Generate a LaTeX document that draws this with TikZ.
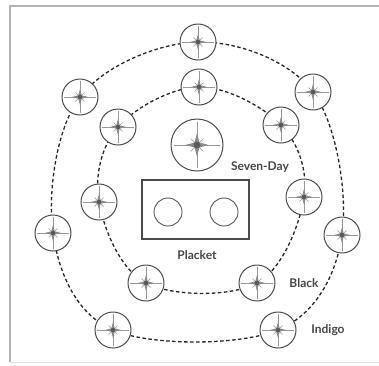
\documentclass[tikz,border=0pt]{standalone}
\usepackage{fontspec}
\setmainfont{Lato}
\tikzset{
  ring/.style={draw=black!85, line width=1.3pt, dash pattern=on 3.5pt off 2.5pt},
  lbl/.style={font=\fontsize{12}{12}\selectfont\bfseries, text=black!72, inner sep=0pt},
  hole/.style={circle, draw=black!65, line width=0.9pt, minimum size=28pt, inner sep=0pt},
  btnc/.style={circle, fill=white, draw=black!70, line width=1pt, inner sep=0pt},
}
\begin{document}
\begin{tikzpicture}[x=1pt,y=-1pt]
\useasboundingbox (0,0) rectangle (379,365);
\fill[white] (0,0) rectangle (379,365);
% frame
\draw[black!30, line width=1.5pt] (379,6) -- (10,6) -- (10,362);
\draw[black!12, line width=1pt] (10,362) -- (379,362);
% rings
\draw[ring] plot[smooth cycle, tension=0.6] coordinates {(198,42) (313,92) (342,235) (278,330) (113,330) (53,233) (80,97)};
\draw[ring] plot[smooth cycle, tension=0.6] coordinates {(199,87) (281,125) (304,197) (257,283) (146,283) (99,202) (118,127)};
% buttons
\foreach \n/\x/\y/\r in {o1/198/42/18, o2/313/92/18, o3/342/235/18, o4/278/330/18, o5/113/330/18, o6/53/233/18, o7/80/97/18,
  i1/199/87/18, i2/281/125/18, i3/304/197/18, i4/257/283/18, i5/146/283/18, i6/99/202/18, i7/118/127/18, big/197/145/26}{
  \node[btnc, minimum size=2*\r pt] (\n) at (\x,\y) {};
  \begin{scope}[shift={(\x,\y)}]
    \draw[black!40, line width=1pt] (-0.9*\r,0) -- (0.9*\r,0) (0,-0.9*\r) -- (0,0.9*\r);
    \fill[black!45] (-0.45*\r,0) -- (0,-0.12*\r) -- (0.45*\r,0) -- (0,0.12*\r) -- cycle;
    \fill[black!45] (0,-0.45*\r) -- (-0.12*\r,0) -- (0,0.45*\r) -- (0.12*\r,0) -- cycle;
    \draw[black!40, line width=0.6pt] (-0.25*\r,-0.25*\r) -- (0.25*\r,0.25*\r) (-0.25*\r,0.25*\r) -- (0.25*\r,-0.25*\r);
    \fill[black!65] (0,0) circle (0.13*\r);
  \end{scope}
}
% placket
\node[draw=black!70, line width=1.2pt, minimum width=107pt, minimum height=59pt, inner sep=0pt] (placket) at (195.5,209.5) {};
\node[hole] (h1) at (168,212) {};
\node[hole] (h2) at (224,212) {};
% labels
\node[lbl] (sd) at (260,167) {Seven-Day};
\node[lbl] (pl) at (197,255) {Placket};
\node[lbl] (bl) at (304,283) {Black};
\node[lbl] (in) at (328,330) {Indigo};
\end{tikzpicture}
\end{document}
